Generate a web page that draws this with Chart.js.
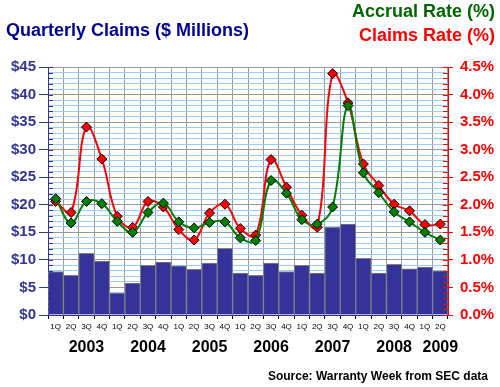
<!DOCTYPE html>
<html>
<head>
<meta charset="utf-8">
<script src="https://cdn.jsdelivr.net/npm/chart.js@4/dist/chart.umd.min.js"></script>
<style>
  html, body { margin: 0; padding: 0; background: #fff; }
  #wrap { width: 500px; height: 387px; }
</style>
</head>
<body>
<div id="wrap"><canvas id="claimsChart"></canvas></div>
<script>
// Data
const quarterLabels = ['1Q','2Q','3Q','4Q','1Q','2Q','3Q','4Q','1Q','2Q','3Q','4Q','1Q','2Q','3Q','4Q',
  '1Q','2Q','3Q','4Q','1Q','2Q','3Q','4Q','1Q','2Q'];
const yearTickLabels = ['','','2003','','','','2004','','','','2005','','','','2006','',
  '','','2007','','','','2008','','','2009'];
const claimsMillions = [7.9, 7.2, 11.2, 9.8, 4.0, 5.8, 9.0, 9.6, 8.9, 8.3, 9.4, 12.1, 7.6, 7.2, 9.4, 7.9,
  9.0, 7.6, 15.9, 16.5, 10.3, 7.6, 9.2, 8.4, 8.7, 8.0];
const claimsRate = [2.06, 1.86, 3.41, 2.83, 1.79, 1.59, 2.06, 1.96, 1.55, 1.36, 1.85, 2.01, 1.57, 1.45, 2.82, 2.32,
  1.81, 1.59, 4.38, 3.85, 2.74, 2.35, 2.01, 1.89, 1.64, 1.65];
const accrualRate = [2.11, 1.67, 2.06, 2.02, 1.70, 1.50, 1.86, 2.03, 1.69, 1.58, 1.68, 1.69, 1.40, 1.35, 2.44, 2.21,
  1.73, 1.65, 1.96, 3.80, 2.58, 2.22, 1.87, 1.69, 1.50, 1.36];

const FONT = "'Liberation Sans', Arial, sans-serif";
const NAVY = '#333399';

// titles, source line and the short inner tick marks
const extrasPlugin = {
  id: 'extras',
  afterDraw(chart) {
    const ctx = chart.ctx;
    const y = chart.scales.y, y2 = chart.scales.y2;
    ctx.save();
    ctx.lineWidth = 1;
    y.ticks.forEach(t => {
      const py = Math.round(y.getPixelForValue(t.value)) + 0.5;
      ctx.strokeStyle = NAVY;
      ctx.beginPath(); ctx.moveTo(y.right, py); ctx.lineTo(y.right + 5, py); ctx.stroke();
    });
    y2.ticks.forEach(t => {
      const py = Math.round(y2.getPixelForValue(t.value)) + 0.5;
      ctx.strokeStyle = '#ff0000';
      ctx.beginPath(); ctx.moveTo(y2.left - 5, py); ctx.lineTo(y2.left, py); ctx.stroke();
    });

    ctx.textBaseline = 'alphabetic';
    ctx.font = 'bold 18px ' + FONT;
    ctx.textAlign = 'left';
    ctx.fillStyle = '#000099';
    ctx.fillText('Quarterly Claims ($ Millions)', 6, 36);
    ctx.textAlign = 'right';
    ctx.fillStyle = '#006600';
    ctx.fillText('Accrual Rate (%)', 495, 17);
    ctx.fillStyle = '#ff0000';
    ctx.fillText('Claims Rate (%)', 495, 41);
    ctx.font = 'bold 12px ' + FONT;
    ctx.fillStyle = '#000';
    ctx.fillText('Source: Warranty Week from SEC data', 488, 380);
    ctx.restore();
  }
};

const ctx = document.getElementById('claimsChart').getContext('2d');

new Chart(ctx, {
  type: 'bar',
  data: {
    labels: quarterLabels,
    datasets: [{
      type: 'line',
      label: 'Accrual Rate (%)',
      data: accrualRate,
      yAxisID: 'y2',
      borderColor: '#008000',
      borderWidth: 2,
      tension: 0.4,
      pointStyle: 'rectRot',
      pointRadius: 5,
      pointBackgroundColor: '#008000',
      pointBorderColor: '#000',
      pointBorderWidth: 1,
      order: 0
    }, {
      type: 'line',
      label: 'Claims Rate (%)',
      data: claimsRate,
      yAxisID: 'y2',
      borderColor: '#ff0000',
      borderWidth: 2,
      tension: 0.4,
      pointStyle: 'rectRot',
      pointRadius: 5,
      pointBackgroundColor: '#ff0000',
      pointBorderColor: '#000',
      pointBorderWidth: 1,
      order: 1
    }, {
      label: 'Quarterly Claims',
      data: claimsMillions,
      yAxisID: 'y',
      backgroundColor: NAVY,
      borderColor: '#808080',
      borderWidth: 1,
      barPercentage: 1,
      categoryPercentage: 1,
      order: 2
    }]
  },
  plugins: [extrasPlugin],
  options: {
    responsive: true,
    maintainAspectRatio: false,
    animation: false,
    layout: { padding: { top: 67, bottom: 27, left: 0, right: 0 } },
    plugins: {
      legend: { display: false },
      tooltip: { enabled: false }
    },
    scales: {
      x: {
        position: 'bottom',
        offset: true,
        grid: { color: '#999', offset: true, tickLength: 4, tickColor: '#000' },
        border: { color: NAVY, width: 1 },
        ticks: { color: '#000', font: { family: FONT, size: 8 }, padding: 3, maxRotation: 0, autoSkip: false },
        afterFit: s => { s.height = 20; }
      },
      x2: {
        type: 'category',
        position: 'bottom',
        labels: yearTickLabels,
        offset: true,
        grid: { display: false, drawTicks: false },
        border: { display: false },
        ticks: { color: '#000', font: { family: FONT, size: 16, weight: 'bold' }, padding: 3, maxRotation: 0, autoSkip: false },
        afterFit: s => { s.height = 25; }
      },
      y: {
        position: 'left',
        min: 0,
        max: 45,
        grid: {
          color: c => (Math.round(c.tick.value) % 5 === 0 ? '#999' : '#99ccff'),
          tickColor: c => (Math.round(c.tick.value) % 5 === 0 ? NAVY : 'rgba(0,0,0,0)'),
          tickLength: 9
        },
        border: { color: NAVY, width: 1 },
        ticks: {
          stepSize: 1,
          autoSkip: false,
          padding: 3,
          color: NAVY,
          font: { family: FONT, size: 15, weight: 'bold' },
          callback: v => (Math.round(v) % 5 === 0 ? '$' + Math.round(v) : '')
        },
        afterFit: s => { s.width = 48; }
      },
      y2: {
        position: 'right',
        min: 0,
        max: 4.5,
        grid: {
          drawOnChartArea: false,
          tickColor: c => (Math.round(c.tick.value * 10) % 5 === 0 ? '#ff0000' : 'rgba(0,0,0,0)'),
          tickLength: 5
        },
        border: { color: '#ff0000', width: 1 },
        ticks: {
          stepSize: 0.1,
          autoSkip: false,
          padding: 7,
          color: '#ff0000',
          font: { family: FONT, size: 15, weight: 'bold' },
          callback: v => (Math.round(v * 10) % 5 === 0 ? (Math.round(v * 10) / 10).toFixed(1) + '%' : '')
        },
        afterFit: s => { s.width = 52; }
      }
    }
  }
});
</script>
</body>
</html>
